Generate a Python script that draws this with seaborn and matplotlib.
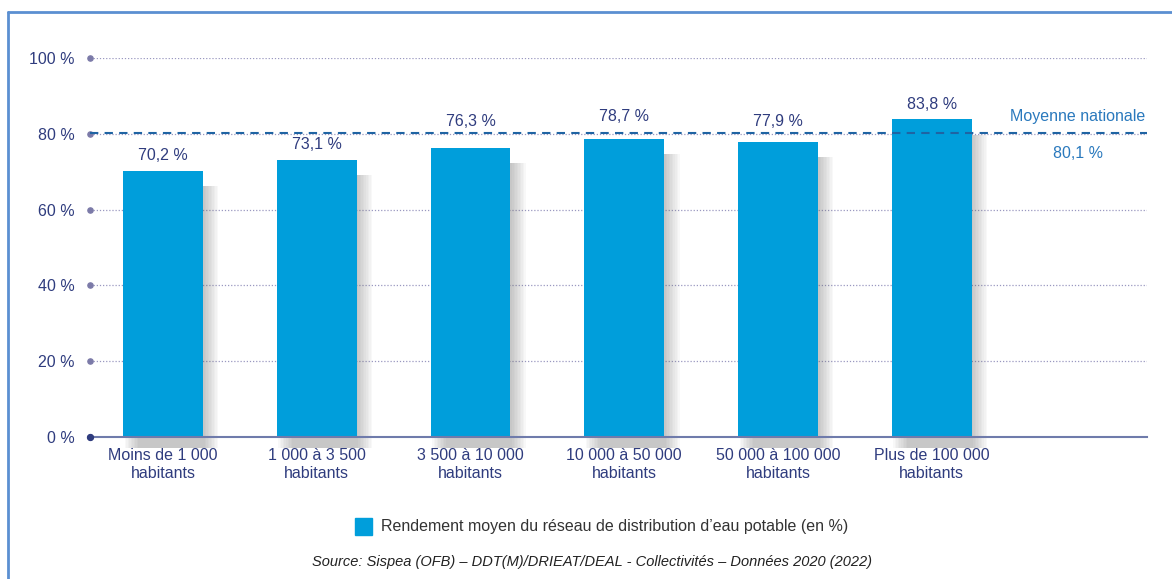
import numpy as np
import pandas as pd
import matplotlib
matplotlib.use("Agg")
import matplotlib.pyplot as plt
import seaborn as sns

categories = ["Moins de 1 000\nhabitants", "1 000 à 3 500\nhabitants", "3 500 à 10 000\nhabitants",
              "10 000 à 50 000\nhabitants", "50 000 à 100 000\nhabitants", "Plus de 100 000\nhabitants"]
rendement = [70.2, 73.1, 76.3, 78.7, 77.9, 83.8]
labels = ["70,2 %", "73,1 %", "76,3 %", "78,7 %", "77,9 %", "83,8 %"]
moyenne = 80.1
yticks = [0, 20, 40, 60, 80, 100]

sns.set_style("white")
plt.rcParams["font.family"] = ["Liberation Sans Narrow", "Liberation Sans", "DejaVu Sans"]

navy = "#2f3c7e"
bar_col = "#009edb"
dash_col = "#1f64a3"

df = pd.DataFrame({"cat": categories, "val": rendement})

fig = plt.figure(figsize=(11.72, 5.79), dpi=100)
ax = fig.add_axes([90 / 1172, 1 - 437 / 579, (1147 - 90) / 1172, (437 - 58) / 579])

# soft shadow to the right of the bars (layered translucent bars)
x = np.arange(len(rendement))
for off in np.linspace(0.01, 0.10, 10):
    ax.bar(x + off, np.array(rendement) - 1, width=0.52, bottom=-3,
           color="#6e6e6e", alpha=0.045, linewidth=0, zorder=1, clip_on=False)

sns.barplot(data=df, x="cat", y="val", color=bar_col, width=0.52, saturation=1,
            linewidth=0, ax=ax)
for p in ax.patches[-len(rendement):]:
    p.set_zorder(3)

# label gaps above each bar (labels are nudged in the original)
gaps = [4.2, 4.0, 6.9, 5.8, 5.3, 4.0]
for i, (v, t) in enumerate(zip(rendement, labels)):
    ax.text(i, v + gaps[i], t, ha="center", va="center", fontsize=11.5, color=navy, zorder=5)

# gridlines
for yv in yticks[1:]:
    ax.axhline(yv, color="#9a98c0", lw=0.9, ls=(0, (1, 1.5)), zorder=0)
ax.scatter([-0.475] * len(yticks), yticks, s=14, color="#7b7aa8", zorder=6, clip_on=False)

ax.plot([-0.475, 6.4], [moyenne, moyenne], color=dash_col, lw=1.5, ls=(0, (4, 3)), zorder=10)
ax.text(5.95, moyenne + 2.6, "Moyenne nationale", ha="center", va="bottom",
        fontsize=11.5, color="#2a79bd")
ax.text(5.95, moyenne - 3.2, "80,1 %", ha="center", va="top", fontsize=11.5, color="#2a79bd")

ax.set_xlim(-0.475, 6.4)
ax.set_ylim(0, 100)
ax.set_yticks(yticks)
ax.set_yticklabels([f"{v} %" for v in yticks], fontsize=11.5, color=navy)
ax.tick_params(axis="y", length=0, pad=11)
ax.tick_params(axis="x", length=0, pad=8, labelsize=11.5, labelcolor=navy)
ax.set_xlabel("")
ax.set_ylabel("")
for s in ["top", "right", "left"]:
    ax.spines[s].set_visible(False)
ax.spines["bottom"].set_color("#6f7bab")
ax.spines["bottom"].set_linewidth(1.5)
ax.spines["bottom"].set_zorder(7)
ax.scatter([-0.475], [0], s=18, color=navy, zorder=8, clip_on=False)

# legend
fig.patches.append(plt.Rectangle((355 / 1172, 1 - 535 / 579), 17 / 1172, 17 / 579,
                                 transform=fig.transFigure, color=bar_col))
fig.text(381 / 1172, 1 - 527 / 579, "Rendement moyen du réseau de distribution d’eau potable (en %)",
         fontsize=11.5, color="#333333", va="center")
fig.text(592 / 1172, 1 - 562 / 579,
         "Source: Sispea (OFB) – DDT(M)/DRIEAT/DEAL - Collectivités – Données 2020 (2022)",
         fontsize=10.5, style="italic", color="#222222", ha="center", va="center")

# frame
fig.add_artist(plt.Line2D([8 / 1172, 8 / 1172], [0, 1 - 12 / 579], color="#5b8fd1", lw=2,
                          transform=fig.transFigure))
fig.add_artist(plt.Line2D([8 / 1172, 1], [1 - 12 / 579, 1 - 12 / 579], color="#5b8fd1", lw=2,
                          transform=fig.transFigure))

fig.savefig("out.png", dpi=100)
